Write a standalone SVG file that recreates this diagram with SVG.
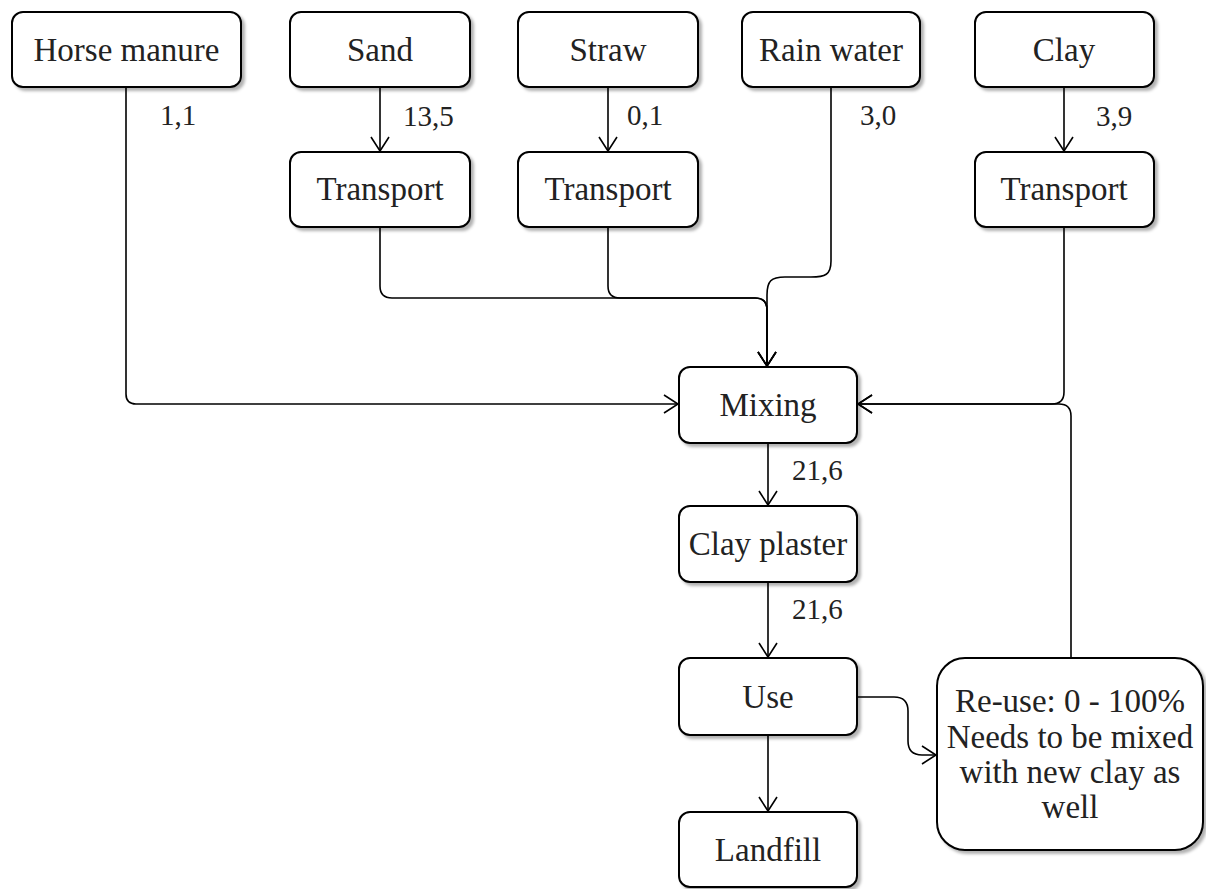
<svg xmlns="http://www.w3.org/2000/svg" width="1206" height="889" viewBox="0 0 1206 889">
<style>
.box{fill:#fff;stroke:#000;stroke-width:2;filter:url(#sh)}
.t{font-family:"Liberation Serif","DejaVu Serif",serif;font-size:33px;fill:#222;text-anchor:middle}
.l{font-family:"Liberation Serif","DejaVu Serif",serif;font-size:29px;fill:#222}
.c{fill:none;stroke:#000;stroke-width:1.6}
</style>
<defs>
<filter id="sh" x="-10%" y="-10%" width="130%" height="130%">
<feDropShadow dx="3" dy="3" stdDeviation="1.5" flood-color="#000" flood-opacity="0.3"/>
</filter>
<marker id="a" markerUnits="userSpaceOnUse" markerWidth="20" markerHeight="24" refX="15" refY="10" orient="auto" overflow="visible">
<path d="M1,1 L15,10 L1,19" fill="none" stroke="#000" stroke-width="1.6"/>
</marker>
</defs>
<rect width="1206" height="889" fill="#fff"/>
<g id="connectors">
<path class="c" d="M126,87 V394 Q126,404 136,404 H678" marker-end="url(#a)"/>
<path class="c" d="M380,87 V151" marker-end="url(#a)"/>
<path class="c" d="M608,87 V151" marker-end="url(#a)"/>
<path class="c" d="M1064,87 V151" marker-end="url(#a)"/>
<path class="c" d="M380,227 V286 Q380,298 392,298 H755 Q767,298 767,310 V366" marker-end="url(#a)"/>
<path class="c" d="M608,227 V286 Q608,298 620,298 H755 Q767,298 767,310 V366" marker-end="url(#a)"/>
<path class="c" d="M831,87 V261 C831,275 825,277 811,277 H785 C771,277 767,281 767,295 V366" marker-end="url(#a)"/>
<path class="c" d="M1064,227 V392 Q1064,404 1052,404 H858" marker-end="url(#a)"/>
<path class="c" d="M1071,658 V416 Q1071,404 1059,404 H858" marker-end="url(#a)"/>
<path class="c" d="M768,443 V505" marker-end="url(#a)"/>
<path class="c" d="M768,582 V657" marker-end="url(#a)"/>
<path class="c" d="M768,735 V811" marker-end="url(#a)"/>
<path class="c" d="M857,697 H894 Q908,697 908,711 V741 Q908,755 922,755 H936" marker-end="url(#a)"/>
<text class="l" x="160" y="125">1,1</text>
<text class="l" x="403" y="126">13,5</text>
<text class="l" x="627" y="125">0,1</text>
<text class="l" x="860" y="125">3,0</text>
<text class="l" x="1096" y="126">3,9</text>
<text class="l" x="792" y="480">21,6</text>
<text class="l" x="792" y="619">21,6</text>
</g>
<g id="horse-manure"><rect class="box" x="12" y="12" width="229" height="75" rx="11"/><text class="t" x="126.5" y="61">Horse manure</text></g>
<g id="sand"><rect class="box" x="290" y="12" width="180" height="75" rx="11"/><text class="t" x="380" y="61">Sand</text></g>
<g id="straw"><rect class="box" x="518" y="12" width="180" height="75" rx="11"/><text class="t" x="608" y="61">Straw</text></g>
<g id="rain-water"><rect class="box" x="742" y="12" width="178" height="75" rx="11"/><text class="t" x="831" y="61">Rain water</text></g>
<g id="clay"><rect class="box" x="975" y="12" width="179" height="75" rx="11"/><text class="t" x="1064" y="61">Clay</text></g>
<g id="transport-sand"><rect class="box" x="290" y="152" width="180" height="75" rx="11"/><text class="t" x="380" y="200">Transport</text></g>
<g id="transport-straw"><rect class="box" x="518" y="152" width="180" height="75" rx="11"/><text class="t" x="608" y="200">Transport</text></g>
<g id="transport-clay"><rect class="box" x="975" y="152" width="179" height="75" rx="11"/><text class="t" x="1064" y="200">Transport</text></g>
<g id="mixing"><rect class="box" x="679" y="367" width="178" height="76" rx="11"/><text class="t" x="768" y="416">Mixing</text></g>
<g id="clay-plaster"><rect class="box" x="679" y="506" width="178" height="76" rx="11"/><text class="t" x="768" y="555">Clay plaster</text></g>
<g id="use"><rect class="box" x="679" y="658" width="178" height="77" rx="11"/><text class="t" x="768" y="708">Use</text></g>
<g id="landfill"><rect class="box" x="679" y="812" width="178" height="75" rx="11"/><text class="t" x="768" y="861">Landfill</text></g>
<g id="re-use"><rect class="box" x="937" y="658" width="266" height="192" rx="28"/>
<text class="t" x="1070" y="712">Re-use: 0 - 100%</text>
<text class="t" x="1070" y="748">Needs to be mixed</text>
<text class="t" x="1070" y="783">with new clay as</text>
<text class="t" x="1070" y="818">well</text>
</g>
</svg>
